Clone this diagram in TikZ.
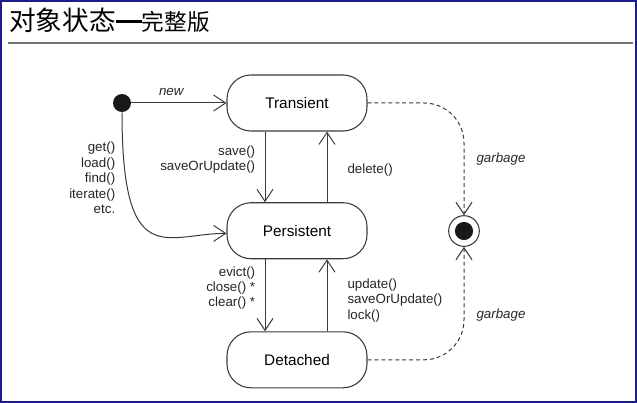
\documentclass[tikz,border=0pt]{standalone}
\usepackage{fontspec}
\setmainfont{Liberation Sans}
\newfontfamily\cjk{Noto Sans CJK SC}
\usetikzlibrary{positioning,arrows.meta}

\definecolor{linecol}{HTML}{3A3A3A}
\definecolor{framecol}{HTML}{1C1C8A}
\definecolor{rulecol}{HTML}{6E766E}

\tikzset{
  stbox/.style={draw=linecol, line width=0.8pt, rounded corners=18pt,
    minimum width=105pt, minimum height=42pt, font=\fontsize{11.5}{13}\selectfont},
  initdot/.style={circle, fill=black!90, inner sep=0pt, minimum size=13.5pt},
  finaldot/.style={circle, draw=linecol, line width=0.8pt, inner sep=0pt, minimum size=23pt,
    path picture={\fill[black!90] (path picture bounding box.center) circle (6.8pt);}},
  trans/.style={draw=linecol, line width=0.75pt, -{Straight Barb[length=9pt,width=12pt]}},
  garb/.style={trans, dash pattern=on 3pt off 2.2pt, rounded corners=30pt},
  lbl/.style={font=\fontsize{10}{11.6}\selectfont, inner sep=0pt, text=black!85},
}

\begin{document}
\begin{tikzpicture}[x=0.75pt,y=-0.75pt]
  \useasboundingbox (0,0) rectangle (637,403);
  \draw[framecol, line width=1.5pt] (1,1) rectangle (636,402);

  \node[anchor=base west, inner sep=0pt] (title) at (9,31)
    {\cjk\fontsize{20}{20}\selectfont 对象状态\rule[6pt]{19.5pt}{2.2pt}\fontsize{17}{17}\selectfont 完整版};
  \draw[rulecol, line width=1.5pt] (8,43) -- (633,43);

  \node[initdot] (start) at (122,103) {};
  \node[stbox] (tr) at (297,103) {Transient};
  \node[stbox, below=53pt of tr] (ps) {Persistent};
  \node[stbox, below=54pt of ps] (dt) {Detached};
  \node[finaldot] (fin) at (464,231) {};

  \draw[trans] (start) -- node[lbl, pos=0.42, above=5pt, font=\fontsize{10}{11.6}\selectfont\itshape] {new} (tr);
  \draw[trans] (start) .. controls +(0,170) and +(-60,0) ..
    node[lbl, pos=0.17, anchor=east, xshift=-7.5pt, align=right]
    {get()\\load()\\find()\\iterate()\\etc.} ([yshift=-2pt]ps.west);

  \draw[trans] ([xshift=-24pt]tr.south) -- node[lbl, pos=0.4, anchor=east, xshift=-7pt, align=right]
    {save()\\saveOrUpdate()} ([xshift=-24pt]ps.north);
  \draw[trans] ([xshift=22.5pt]ps.north) -- node[lbl, pos=0.46, anchor=west, xshift=15pt]
    {delete()} ([xshift=22.5pt]tr.south);

  \draw[trans] ([xshift=-24pt]ps.south) -- node[lbl, pos=0.4, anchor=east, xshift=-7pt, align=right]
    {evict()\\close() *\\clear() *} ([xshift=-24pt]dt.north);
  \draw[trans] ([xshift=22.5pt]dt.north) -- node[lbl, pos=0.43, anchor=west, xshift=15pt, align=left]
    {update()\\saveOrUpdate()\\lock()} ([xshift=22.5pt]ps.south);

  \draw[garb] (tr) -| node[lbl, pos=0.75, anchor=west, xshift=9pt, font=\fontsize{10}{11.6}\selectfont\itshape] {garbage} (fin);
  \draw[garb] (dt) -| node[lbl, pos=0.7, anchor=west, xshift=9pt, font=\fontsize{10}{11.6}\selectfont\itshape] {garbage} (fin);
\end{tikzpicture}
\end{document}
